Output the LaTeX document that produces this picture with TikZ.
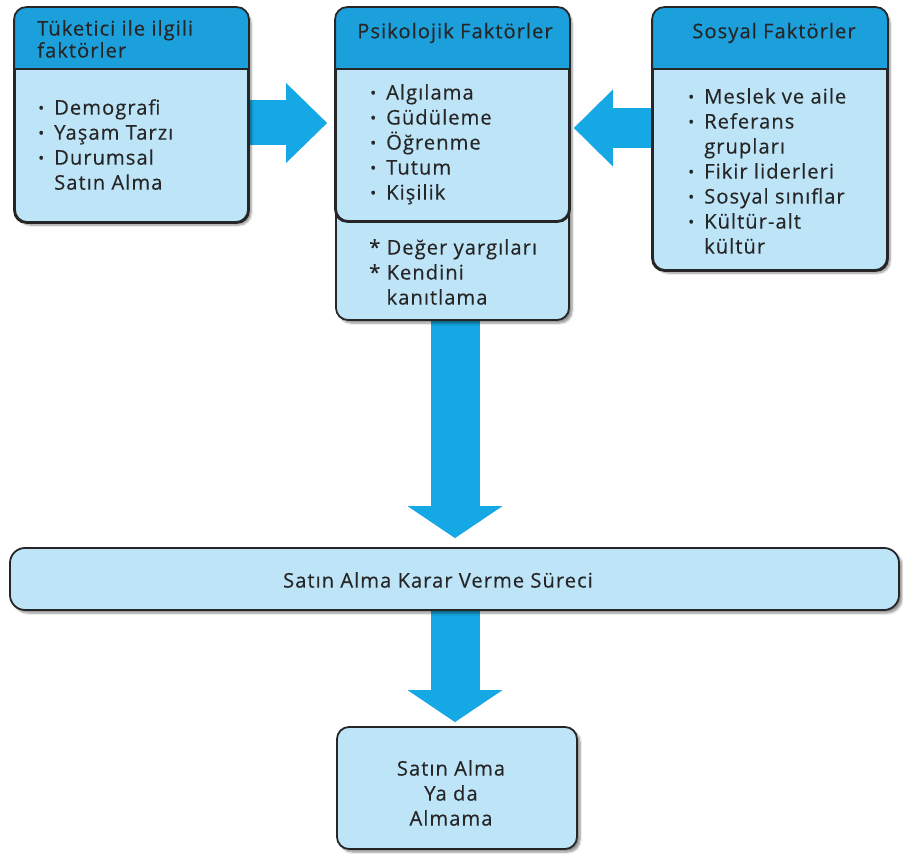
\documentclass[tikz,border=0pt]{standalone}
\usepackage{fontspec}
\setmainfont[LetterSpace=5,FakeBold=0.3]{Open Sans}
\usetikzlibrary{arrows.meta,calc,backgrounds,shadows.blur}
\definecolor{hdr}{RGB}{28,160,220}
\definecolor{bodyc}{RGB}{190,228,248}
\definecolor{arr}{RGB}{22,168,228}
\definecolor{txt}{RGB}{38,38,38}
\newcommand\bul{\raisebox{1pt}{\fontsize{16}{16}\selectfont •}\hspace{10pt}}
\begin{document}
\begin{tikzpicture}[x=1pt,y=-1pt,
  box/.style={draw=black!85, line width=1.8pt, fill=bodyc, rounded corners=12pt, inner sep=0pt},
  shade box/.style={blur shadow={shadow xshift=3pt, shadow yshift=-3pt, shadow blur steps=6, shadow opacity=45}},
  boxline/.style={draw=black!85, line width=1.8pt, rounded corners=12pt},
  label/.style={inner sep=0pt, text=txt, font=\fontsize{20.2}{25}\selectfont},
  big/.style={draw=arr, line cap=butt},
]
\useasboundingbox (0,0) rectangle (903,864);

% boxes
\node[box, shade box, minimum width=233pt, minimum height=214pt] (tuk) at (131.5,115) {};
\node[box, shade box, minimum width=233pt, minimum height=312pt] (psi) at (452.5,164) {};
\node[box, minimum width=233pt, minimum height=213pt] (psitop) at (452.5,114.5) {};
\node[box, shade box, minimum width=234pt, minimum height=262pt] (sos) at (770,139) {};
\node[box, shade box, rounded corners=15pt, minimum width=889pt, minimum height=62pt] (karar) at (454.5,579) {};
\node[box, shade box, minimum width=240pt, minimum height=122pt] (sonuc) at (457,788) {};

% headers
\foreach \b in {tuk,psitop,sos}{
  \begin{scope}
    \clip[rounded corners=12pt] (\b.north west) rectangle (\b.south east);
    \fill[hdr] (\b.north west) rectangle ($(\b.north east)+(0,62)$);
  \end{scope}
  \draw[draw=black!85, line width=1.8pt] ($(\b.north west)+(0,62)$) -- ($(\b.north east)+(0,62)$);
  \draw[boxline] (\b.north west) rectangle (\b.south east);
}

% texts
\node[label, anchor=north west, align=left] (tukh) at (37,20) {Tüketici ile ilgili\\[-3pt]faktörler};
\node[label, anchor=north west, align=left] (tukl) at (38,99)
  {\bul Demografi\\\bul Yaşam Tarzı\\\bul Durumsal\\\phantom{\bul}Satın Alma};
\node[label] (psih) at (455,33) {Psikolojik Faktörler};
\node[label, anchor=north west, align=left] (psil) at (370,84)
  {\bul Algılama\\\bul Güdüleme\\\bul Öğrenme\\\bul Tutum\\\bul Kişilik};
\node[label, anchor=north west, align=left] (psib) at (369,239)
  {* Değer yargıları\\* Kendini\\\phantom{* }kanıtlama};
\node[label] (sosh) at (774,33) {Sosyal Faktörler};
\node[label, anchor=north west, align=left] (sosl) at (688,88)
  {\bul Meslek ve aile\\\bul Referans\\\phantom{\bul}grupları\\\bul Fikir liderleri\\\bul Sosyal sınıflar\\\bul Kültür-alt\\\phantom{\bul}kültür};
\node[label] (karart) at (438,580) {Satın Alma Karar Verme Süreci};
\node[label, align=center] (sonuct) at (451,793) {Satın Alma\\Ya da\\Almama};

% arrows
\begin{pgfonlayer}{background}
\coordinate (r1) at (0,123);
\coordinate (r2) at (0,128);
\coordinate (d1) at (455,0);
\draw[big, line width=45pt, -{Triangle[length=41pt,width=80pt,line width=0pt]}, shorten >=8pt]
  (tuk.east |- r1) -- (psi.west |- r1);
\draw[big, line width=40pt, -{Triangle[length=39pt,width=77pt,line width=0pt]}, shorten >=4pt]
  (sos.west |- r2) -- (psi.east |- r2);
\draw[big, line width=49pt, -{Triangle[length=32pt,width=95pt,line width=0pt]}, shorten >=9pt]
  (psi.south -| d1) -- (karar.north -| d1);
\draw[big, line width=49pt, -{Triangle[length=32pt,width=95pt,line width=0pt]}, shorten >=4pt]
  (karar.south -| d1) -- (sonuc.north -| d1);
\end{pgfonlayer}
\end{tikzpicture}
\end{document}
